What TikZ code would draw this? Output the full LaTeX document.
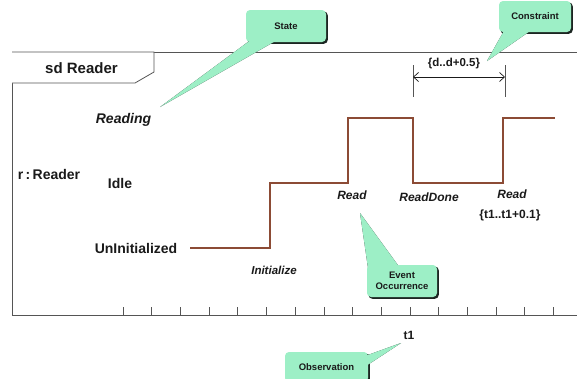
\documentclass[tikz,border=0pt]{standalone}
\usepackage{fontspec}
\setmainfont{Liberation Sans}
\usetikzlibrary{arrows.meta}
\definecolor{mint}{HTML}{9DEFC6}
\definecolor{cshade}{HTML}{1C2622}
\definecolor{frame}{HTML}{555555}
\definecolor{lifeline}{HTML}{8C4B35}
\definecolor{ink}{HTML}{1A1A1A}
\pgfdeclarelayer{paper}
\pgfdeclarelayer{back}
\pgfsetlayers{paper,back,main}
\newcommand{\fsz}[1]{\fontsize{#1}{#1}\selectfont}
% rounded box shadow and callout tail: box name, base point 1, base point 2, tip
\newcommand{\callouttail}[4]{%
  \begin{pgfonlayer}{back}
    \fill[cshade, rounded corners=4pt]
      ([shift={(1.6,1.6)}]#1.north west) rectangle ([shift={(1.6,1.6)}]#1.south east);
    \fill[cshade, shift={(1.4,1.4)}] (#2) -- (#4) -- (#3) -- cycle;
  \end{pgfonlayer}
  \fill[mint] (#2) -- (#4) -- (#3) -- cycle;
}
\begin{document}
\begin{tikzpicture}[x=1pt,y=-1pt,
  frameline/.style={draw=frame, line width=0.8pt},
  lbl/.style={text=ink, inner sep=0pt, font=\bfseries\fsz{14}},
  ilbl/.style={text=ink, inner sep=0pt, font=\bfseries\itshape\fsz{12}},
  callout/.style={fill=mint, rounded corners=4pt, inner sep=0pt, align=center,
    text=ink, font=\bfseries\fsz{9.5}},
  lifestep/.style={draw=lifeline, line width=2pt},
  tick/.style={draw=frame, line width=0.7pt}]
\useasboundingbox (0,0) rectangle (577,378);
\begin{pgfonlayer}{paper}
  \fill[white] (0,0) rectangle (577,378);
\end{pgfonlayer}

% interaction frame with its name tab
\draw[frameline] (577,52) -- (12,52) -- (12,315) -- (577,315);
\draw[frameline, fill=white] (12,52) -- (154,52) -- (154,72) -- (135,83) -- (12,83);
\node[lbl, font=\bfseries\fsz{15}] (title) at (81.5,68) {sd Reader};

% time ruler ticks
\foreach \k in {0,...,15} {
  \coordinate (tk\k) at ({123+28.7*\k},315);
  \draw[tick] (tk\k) -- ++(0,-8);
}

% lifeline and state names
\node[lbl] (lifename) at (49,174) {r\,:\,Reader};
\node[lbl, font=\bfseries\itshape\fsz{14}] (reading) at (123.5,120) {Reading};
\node[lbl] (idle) at (120,183) {Idle};
\node[lbl] (uninit) at (136,248) {UnInitialized};

% state timeline
\coordinate (s0) at (190,248);
\coordinate (s1) at (270,248);
\coordinate (s2) at (270,183);
\coordinate (s3) at (348,183);
\coordinate (s4) at (348,118);
\coordinate (s5) at (413,118);
\coordinate (s6) at (413,183);
\coordinate (s7) at (503,183);
\coordinate (s8) at (503,118);
\coordinate (s9) at (555,118);
\draw[lifestep] (s0) -- (s1) -- (s2) -- (s3) -- (s4) -- (s5) -- (s6) -- (s7) -- (s8) -- (s9);

% events
\node[ilbl, font=\bfseries\itshape\fsz{11.5}] (evinit) at (274,270) {Initialize};
\node[ilbl] (evread1) at (352,195) {Read};
\node[ilbl] (evdone) at (429,197) {ReadDone};
\node[ilbl] (evread2) at (512,194) {Read};
\node[lbl, font=\bfseries\fsz{12}] (tcons) at (510,215) {\{t1..t1+0.1\}};

% duration constraint
\coordinate (dtop1) at (413,65);
\coordinate (dbot1) at (413,97);
\coordinate (dtop2) at (505,65);
\coordinate (dbot2) at (505,97);
\draw[tick] (dtop1) -- (dbot1);
\draw[tick] (dtop2) -- (dbot2);
\coordinate (dl) at (413,77);
\coordinate (dr) at (505,77);
\draw[draw=ink, line width=0.7pt, {Straight Barb[length=5pt,width=9pt]}-{Straight Barb[length=5pt,width=9pt]}] (dl) -- (dr);
\node[lbl, font=\bfseries\fsz{11.5}] (dcons) at (454,64) {\{d..d+0.5\}};

% observation time
\node[lbl, font=\bfseries\fsz{12}] (t1) at (409,335) {t1};

% callouts
\node[callout, minimum width=80pt, minimum height=32pt] (cstate) at (286,26) {State};
\coordinate (statetip) at (160,107);
\coordinate (stateb1) at (252,39);
\coordinate (stateb2) at (279,39);
\callouttail{cstate}{stateb1}{stateb2}{statetip}

\node[callout, minimum width=72pt, minimum height=31pt] (cconstr) at (535,16.5) {Constraint};
\coordinate (constrtip) at (487,61);
\coordinate (constrb1) at (505,29);
\coordinate (constrb2) at (533,29);
\callouttail{cconstr}{constrb1}{constrb2}{constrtip}

\node[callout, minimum width=70pt, minimum height=32pt] (cevent) at (402,281) {Event\\[2pt]Occurrence};
\coordinate (eventtip) at (360,213);
\coordinate (eventb1) at (368,268);
\coordinate (eventb2) at (400,268);
\callouttail{cevent}{eventb1}{eventb2}{eventtip}

\node[callout, minimum width=83pt, minimum height=30pt] (cobs) at (326.5,367) {Observation};
\coordinate (obstip) at (401,343);
\coordinate (obsb1) at (365,356);
\coordinate (obsb2) at (366,366);
\callouttail{cobs}{obsb1}{obsb2}{obstip}
\end{tikzpicture}
\end{document}
